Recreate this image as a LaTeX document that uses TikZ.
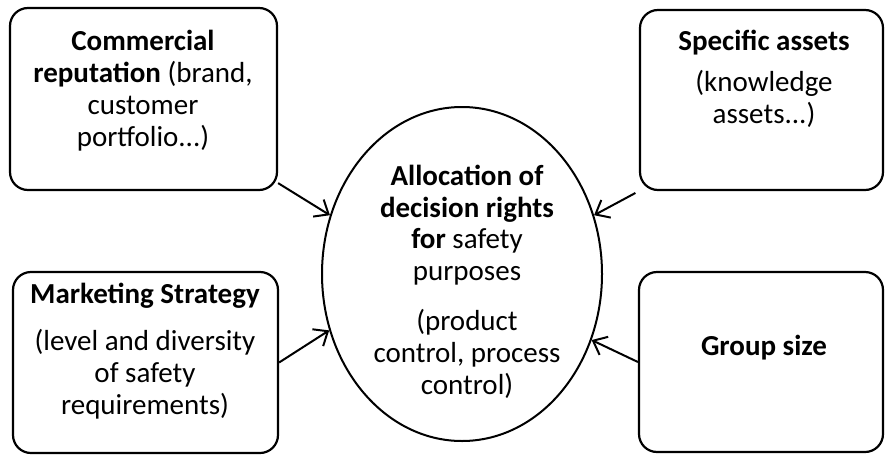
\documentclass[tikz,border=0pt]{standalone}
\usepackage{fontspec}
\setmainfont{Carlito}
\usetikzlibrary{arrows.meta,shapes.geometric}
\begin{document}
\begin{tikzpicture}[x=1pt,y=-1pt,
  box/.style={draw, line width=2.2pt, rounded corners=18pt, inner sep=0pt},
  bubble/.style={draw, ellipse, line width=2pt, inner sep=0pt},
  txt/.style={align=center, inner sep=0pt, anchor=base, font=\fontsize{29}{31.8}\selectfont},
  arr/.style={line width=2pt, -{Straight Barb[length=12pt,width=20pt,line width=2pt]}}]
\useasboundingbox (0,0) rectangle (885,455);
\node[box, minimum width=267pt, minimum height=182pt] (tl) at (143.5,99) {};
\node[box, minimum width=243pt, minimum height=180pt] (tr) at (761.5,100) {};
\node[box, minimum width=265pt, minimum height=181pt] (bl) at (145.5,362.5) {};
\node[box, minimum width=244pt, minimum height=180pt] (br) at (761,362) {};
\node[bubble, minimum width=280pt, minimum height=334pt] (ell) at (462,274) {};
% anchor=base lies on the last line's baseline
\node[txt] (tltext) at (143,146) {\textbf{Commercial}\\ \textbf{reputation} (brand,\\ customer\\ portfolio...)};
\node[txt] (trtext) at (764,123) {\textbf{Specific assets}\\[9pt] (knowledge\\ assets...)};
\node[txt] (bltext) at (145,414) {\textbf{Marketing Strategy}\\[15pt] (level and diversity\\ of safety\\ requirements)};
\node[txt] (brtext) at (764,355) {\textbf{Group size}};
\node[txt] (elltext) at (467,394) {\textbf{Allocation of}\\ \textbf{decision rights}\\ \textbf{for} safety\\ purposes\\[18pt] (product\\ control, process\\ control)};
\draw[arr] (tl.-32) -- (ell.156);
\draw[arr] (bl.east) -- (ell.203);
\draw[arr, shorten <=4pt] (tr.south west) -- (ell.24);
\draw[arr] (br.west) -- (ell.-27.6);
\end{tikzpicture}
\end{document}
